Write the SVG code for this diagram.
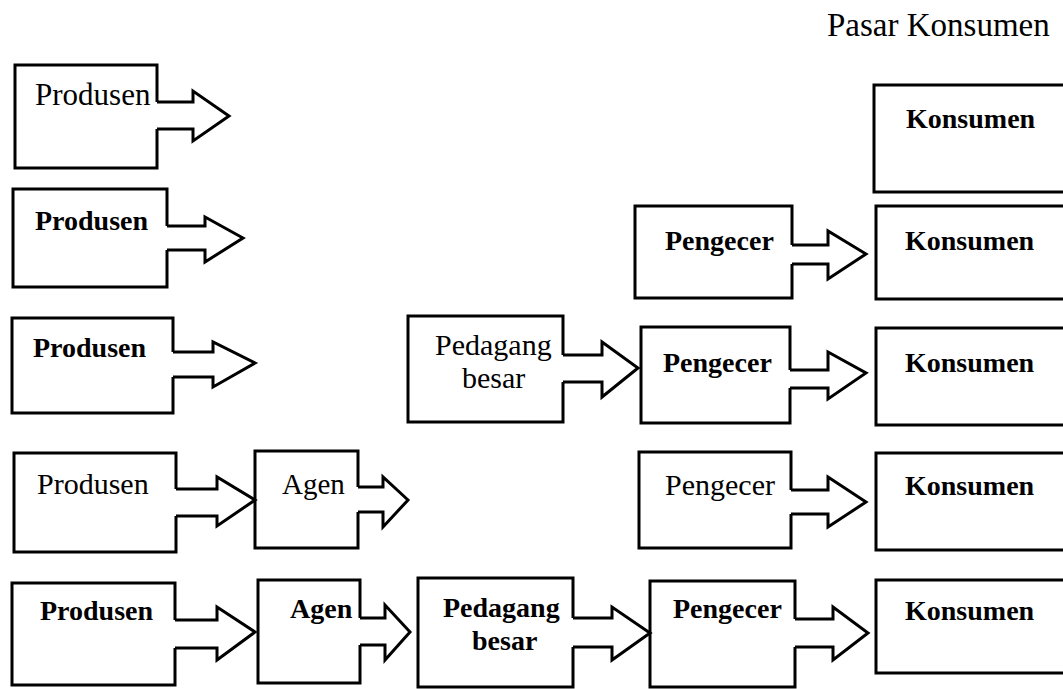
<svg xmlns="http://www.w3.org/2000/svg" width="1063" height="689" viewBox="0 0 1063 689">
<style>
.box{fill:none;stroke:#000;stroke-width:3;stroke-linejoin:miter}
.arr{fill:none;stroke:#000;stroke-width:3;stroke-linejoin:miter}
text{font-family:"Liberation Serif","Times New Roman",serif;fill:#000}
.r{font-size:31px}
.r2{font-size:30px}
.b{font-size:28px;font-weight:bold}
.t{font-size:33px}
</style>
<rect width="1063" height="689" fill="#fff"/>
<text class="t" x="827" y="36">Pasar Konsumen</text>

<!-- Row 1 -->
<g id="produsen1"><path class="box" d="M157,102 V65 H15 V168 H157 V129"/><text class="r" x="35" y="105">Produsen</text></g>
<g id="konsumen1"><path class="box" d="M1070,85 H874 V192 H1070"/><text class="b" x="906" y="128">Konsumen</text></g>

<!-- Row 2 -->
<g id="produsen2"><path class="box" d="M167,226 V189 H13 V287 H167 V250"/><text class="b" x="35" y="230">Produsen</text></g>
<g id="pengecer2"><path class="box" d="M792,245 V206 H635 V298 H792 V264"/><text class="b" x="665" y="250">Pengecer</text></g>
<g id="konsumen2"><path class="box" d="M1070,206 H876 V299 H1070"/><text class="b" x="905" y="250">Konsumen</text></g>

<!-- Row 3 -->
<g id="produsen3"><path class="box" d="M173,352 V318 H12 V413 H173 V377"/><text class="b" x="33" y="357">Produsen</text></g>
<g id="pedagang3"><path class="box" d="M563,355 V316 H408 V422 H563 V382"/><text class="r2" x="435" y="355">Pedagang</text><text class="r2" x="462" y="388">besar</text></g>
<g id="pengecer3"><path class="box" d="M790,370 V327 H641 V423 H790 V388"/><text class="b" x="663" y="372">Pengecer</text></g>
<g id="konsumen3"><path class="box" d="M1070,328 H876 V425 H1070"/><text class="b" x="905" y="372">Konsumen</text></g>

<!-- Row 4 -->
<g id="produsen4"><path class="box" d="M176,489 V453 H14 V552 H176 V516"/><text class="r2" x="37" y="494">Produsen</text></g>
<g id="agen4"><path class="box" d="M358,487 V451 H255 V548 H358 V512"/><text class="r2" x="282" y="494" style="font-size:29px">Agen</text></g>
<g id="pengecer4"><path class="box" d="M791,490 V452 H639 V548 H791 V514"/><text class="r2" x="665" y="495">Pengecer</text></g>
<g id="konsumen4"><path class="box" d="M1070,453 H876 V550 H1070"/><text class="b" x="905" y="495">Konsumen</text></g>

<!-- Row 5 -->
<g id="produsen5"><path class="box" d="M175,620 V583 H12 V685 H175 V648"/><text class="b" x="40" y="620">Produsen</text></g>
<g id="agen5"><path class="box" d="M360,618 V580 H258 V683 H360 V645"/><text class="b" x="290" y="618">Agen</text></g>
<g id="pedagang5"><path class="box" d="M573,618 V578 H418 V687 H573 V647"/><text class="b" x="443" y="617">Pedagang</text><text class="b" x="472" y="650">besar</text></g>
<g id="pengecer5"><path class="box" d="M795,619 V581 H650 V687 H795 V647"/><text class="b" x="673" y="618">Pengecer</text></g>
<g id="konsumen5"><path class="box" d="M1070,580 H876 V673 H1070"/><text class="b" x="905" y="620">Konsumen</text></g>

<g id="connectors">
<path class="arr" d="M157,102 H193 V91 L229,116 L193,141 V129 H157"/>
<path class="arr" d="M167,226 H205 V217 L243,238 L205,262 V250 H167"/>
<path class="arr" d="M792,245 H828 V231 L866,254 L828,279 V264 H792"/>
<path class="arr" d="M173,352 H213 V342 L255,363 L213,387 V377 H173"/>
<path class="arr" d="M563,355 H602 V342 L638,368 L602,397 V382 H563"/>
<path class="arr" d="M790,370 H828 V352 L866,373 L828,399 V388 H790"/>
<path class="arr" d="M176,489 H217 V477 L255,500 L217,526 V516 H176"/>
<path class="arr" d="M358,487 H383 V477 L408,500 L383,527 V512 H358"/>
<path class="arr" d="M791,490 H828 V477 L866,502 L828,527 V514 H791"/>
<path class="arr" d="M175,620 H217 V607 L255,632 L217,660 V648 H175"/>
<path class="arr" d="M360,618 H385 V605 L410,632 L385,660 V645 H360"/>
<path class="arr" d="M573,618 H612 V607 L650,633 L612,660 V647 H573"/>
<path class="arr" d="M795,619 H833 V607 L868,633 L833,660 V647 H795"/>
</g>
</svg>
